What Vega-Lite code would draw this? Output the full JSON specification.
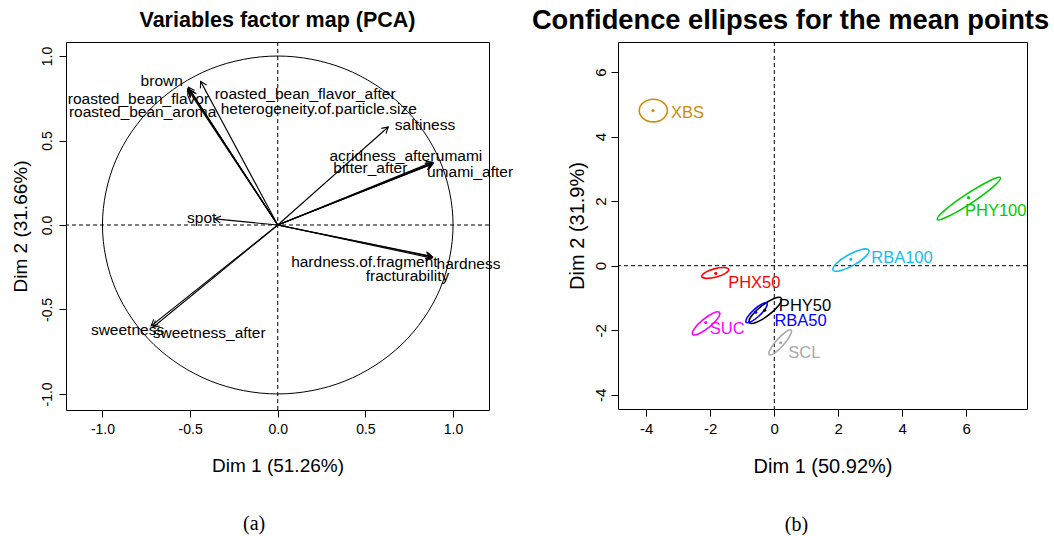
{
  "$schema": "https://vega.github.io/schema/vega-lite/v6.json",
  "padding": {"left": 10, "top": 6, "right": 0, "bottom": 0},
  "spacing": 17,
  "config": {
    "locale": {"number": {"decimal": ".", "thousands": ",", "grouping": [3], "currency": ["$", ""], "minus": "-"}},
    "font": "Liberation Sans",
    "view": {"stroke": "black", "strokeWidth": 1},
    "axis": {"domain": false, "grid": false, "ticks": true, "tickSize": 7, "tickColor": "black", "tickWidth": 1, "labelColor": "black", "labelFont": "Liberation Sans", "labelFontSize": 14, "labelPadding": 5, "titleColor": "black", "titleFont": "Liberation Sans", "titleFontSize": 19, "titleFontWeight": "normal"},
    "axisX": {"titlePadding": 20},
    "axisY": {"labelAngle": -90, "labelAlign": "center", "labelBaseline": "bottom", "titlePadding": 10},
    "title": {"color": "black", "font": "Liberation Sans"}
  },
  "datasets": {
    "arrows": [
      {"name": "brown", "x": -0.515, "y": 0.805, "lx": -0.662, "ly": 0.854},
      {"name": "roasted_bean_flavor", "x": -0.51, "y": 0.815, "lx": -0.795, "ly": 0.744},
      {"name": "roasted_bean_aroma", "x": -0.505, "y": 0.8, "lx": -0.771, "ly": 0.67},
      {"name": "roasted_bean_flavor_after", "x": -0.44, "y": 0.85, "lx": 0.156, "ly": 0.775},
      {"name": "heterogeneity.of.particle.size", "x": -0.5, "y": 0.795, "lx": 0.234, "ly": 0.686},
      {"name": "saltiness", "x": 0.63, "y": 0.58, "lx": 0.84, "ly": 0.592},
      {"name": "acridness_after", "x": 0.882, "y": 0.372, "lx": 0.597, "ly": 0.408},
      {"name": "umami", "x": 0.888, "y": 0.368, "lx": 1.034, "ly": 0.408},
      {"name": "bitter_after", "x": 0.878, "y": 0.36, "lx": 0.528, "ly": 0.335},
      {"name": "umami_after", "x": 0.885, "y": 0.362, "lx": 1.097, "ly": 0.314},
      {"name": "spot", "x": -0.36, "y": 0.036, "lx": -0.434, "ly": 0.043},
      {"name": "hardness.of.fragment", "x": 0.878, "y": -0.186, "lx": 0.494, "ly": -0.217},
      {"name": "hardness", "x": 0.884, "y": -0.19, "lx": 1.088, "ly": -0.231},
      {"name": "fracturability", "x": 0.88, "y": -0.196, "lx": 0.74, "ly": -0.302},
      {"name": "sweetness", "x": -0.722, "y": -0.597, "lx": -0.857, "ly": -0.621},
      {"name": "sweetness_after", "x": -0.712, "y": -0.605, "lx": -0.391, "ly": -0.637}
    ],
    "circle": [
      {"i": 0, "x": 1, "y": 0}, {"i": 1, "x": 0.9239, "y": 0.3827}, {"i": 2, "x": 0.7071, "y": 0.7071}, {"i": 3, "x": 0.3827, "y": 0.9239},
      {"i": 4, "x": 0, "y": 1}, {"i": 5, "x": -0.3827, "y": 0.9239}, {"i": 6, "x": -0.7071, "y": 0.7071}, {"i": 7, "x": -0.9239, "y": 0.3827},
      {"i": 8, "x": -1, "y": 0}, {"i": 9, "x": -0.9239, "y": -0.3827}, {"i": 10, "x": -0.7071, "y": -0.7071}, {"i": 11, "x": -0.3827, "y": -0.9239},
      {"i": 12, "x": 0, "y": -1}, {"i": 13, "x": 0.3827, "y": -0.9239}, {"i": 14, "x": 0.7071, "y": -0.7071}, {"i": 15, "x": 0.9239, "y": -0.3827}
    ],
    "ellipses": [
      {"g": "PHY100", "i": 0, "x": 7.067, "y": 2.727}, {"g": "PHY100", "i": 1, "x": 6.718, "y": 2.629}, {"g": "PHY100", "i": 2, "x": 5.995, "y": 2.21}, {"g": "PHY100", "i": 3, "x": 5.322, "y": 1.715},
      {"g": "PHY100", "i": 4, "x": 5.093, "y": 1.433}, {"g": "PHY100", "i": 5, "x": 5.442, "y": 1.531}, {"g": "PHY100", "i": 6, "x": 6.166, "y": 1.95}, {"g": "PHY100", "i": 7, "x": 6.838, "y": 2.445},
      {"g": "XBS", "i": 0, "x": -3.34, "y": 4.81}, {"g": "XBS", "i": 1, "x": -3.469, "y": 5.057}, {"g": "XBS", "i": 2, "x": -3.78, "y": 5.16}, {"g": "XBS", "i": 3, "x": -4.091, "y": 5.057},
      {"g": "XBS", "i": 4, "x": -4.22, "y": 4.81}, {"g": "XBS", "i": 5, "x": -4.091, "y": 4.563}, {"g": "XBS", "i": 6, "x": -3.78, "y": 4.46}, {"g": "XBS", "i": 7, "x": -3.469, "y": 4.563},
      {"g": "RBA100", "i": 0, "x": 2.952, "y": 0.484}, {"g": "RBA100", "i": 1, "x": 2.727, "y": 0.504}, {"g": "RBA100", "i": 2, "x": 2.308, "y": 0.332}, {"g": "RBA100", "i": 3, "x": 1.939, "y": 0.068},
      {"g": "RBA100", "i": 4, "x": 1.838, "y": -0.134}, {"g": "RBA100", "i": 5, "x": 2.063, "y": -0.154}, {"g": "RBA100", "i": 6, "x": 2.482, "y": 0.018}, {"g": "RBA100", "i": 7, "x": 2.851, "y": 0.282},
      {"g": "PHX50", "i": 0, "x": -1.425, "y": -0.115}, {"g": "PHX50", "i": 1, "x": -1.572, "y": -0.058}, {"g": "PHX50", "i": 2, "x": -1.879, "y": -0.099}, {"g": "PHX50", "i": 3, "x": -2.166, "y": -0.214},
      {"g": "PHX50", "i": 4, "x": -2.265, "y": -0.335}, {"g": "PHX50", "i": 5, "x": -2.118, "y": -0.392}, {"g": "PHX50", "i": 6, "x": -1.811, "y": -0.351}, {"g": "PHX50", "i": 7, "x": -1.524, "y": -0.236},
      {"g": "PHY50", "i": 0, "x": 0.218, "y": -1.006}, {"g": "PHY50", "i": 1, "x": -0.005, "y": -1.016}, {"g": "PHY50", "i": 2, "x": -0.389, "y": -1.242}, {"g": "PHY50", "i": 3, "x": -0.709, "y": -1.552},
      {"g": "PHY50", "i": 4, "x": -0.778, "y": -1.764}, {"g": "PHY50", "i": 5, "x": -0.555, "y": -1.754}, {"g": "PHY50", "i": 6, "x": -0.171, "y": -1.528}, {"g": "PHY50", "i": 7, "x": 0.149, "y": -1.218},
      {"g": "RBA50", "i": 0, "x": -0.231, "y": -1.164}, {"g": "RBA50", "i": 1, "x": -0.385, "y": -1.186}, {"g": "RBA50", "i": 2, "x": -0.639, "y": -1.368}, {"g": "RBA50", "i": 3, "x": -0.843, "y": -1.604},
      {"g": "RBA50", "i": 4, "x": -0.879, "y": -1.756}, {"g": "RBA50", "i": 5, "x": -0.725, "y": -1.734}, {"g": "RBA50", "i": 6, "x": -0.471, "y": -1.552}, {"g": "RBA50", "i": 7, "x": -0.267, "y": -1.316},
      {"g": "SUC", "i": 0, "x": -1.711, "y": -1.45}, {"g": "SUC", "i": 1, "x": -1.901, "y": -1.468}, {"g": "SUC", "i": 2, "x": -2.225, "y": -1.674}, {"g": "SUC", "i": 3, "x": -2.493, "y": -1.948},
      {"g": "SUC", "i": 4, "x": -2.549, "y": -2.13}, {"g": "SUC", "i": 5, "x": -2.359, "y": -2.112}, {"g": "SUC", "i": 6, "x": -2.036, "y": -1.906}, {"g": "SUC", "i": 7, "x": -1.767, "y": -1.632},
      {"g": "SCL", "i": 0, "x": 0.528, "y": -1.999}, {"g": "SCL", "i": 1, "x": 0.361, "y": -2.052}, {"g": "SCL", "i": 2, "x": 0.092, "y": -2.296}, {"g": "SCL", "i": 3, "x": -0.123, "y": -2.59},
      {"g": "SCL", "i": 4, "x": -0.158, "y": -2.761}, {"g": "SCL", "i": 5, "x": 0.009, "y": -2.708}, {"g": "SCL", "i": 6, "x": 0.278, "y": -2.464}, {"g": "SCL", "i": 7, "x": 0.493, "y": -2.17}
    ],
    "groups": [
      {"g": "XBS", "cx": -3.79, "cy": 4.81, "lx": -2.71, "ly": 4.74},
      {"g": "PHY100", "cx": 6.07, "cy": 2.11, "lx": 6.92, "ly": 1.7},
      {"g": "RBA100", "cx": 2.39, "cy": 0.2, "lx": 3.99, "ly": 0.23},
      {"g": "PHX50", "cx": -1.83, "cy": -0.24, "lx": -0.625, "ly": -0.53},
      {"g": "PHY50", "cx": -0.3, "cy": -1.38, "lx": 0.96, "ly": -1.25},
      {"g": "RBA50", "cx": -0.58, "cy": -1.44, "lx": 0.82, "ly": -1.71},
      {"g": "SUC", "cx": -2.14, "cy": -1.76, "lx": -1.47, "ly": -1.97},
      {"g": "SCL", "cx": 0.2, "cy": -2.39, "lx": 0.94, "ly": -2.7}
    ]
  },
  "hconcat": [
    {
      "title": {"text": "(a)", "orient": "bottom", "anchor": "middle", "font": "Liberation Serif", "fontSize": 20, "fontWeight": "normal", "offset": 38, "dx": -8},
      "vconcat": [
        {
          "width": 423,
          "height": 368,
          "title": {"text": "Variables factor map (PCA)", "anchor": "middle", "fontSize": 21.5, "fontWeight": "bold", "offset": 10},
          "layer": [
            {
              "data": {"values": [{}]},
              "mark": {"type": "rule", "stroke": "black", "strokeWidth": 1, "strokeDash": [4, 3]},
              "encoding": {"x": {"datum": 0, "type": "quantitative", "scale": {"domain": [-1.208, 1.205], "nice": false, "zero": false}, "axis": {"values": [-1, -0.5, 0, 0.5, 1], "format": ".1f", "title": "Dim 1 (51.26%)"}}}
            },
            {
              "data": {"values": [{}]},
              "mark": {"type": "rule", "stroke": "black", "strokeWidth": 1, "strokeDash": [4, 3]},
              "encoding": {"y": {"datum": 0, "type": "quantitative", "scale": {"domain": [-1.095, 1.083], "nice": false, "zero": false}, "axis": {"values": [-1, -0.5, 0, 0.5, 1], "format": ".1f", "title": "Dim 2 (31.66%)"}}}
            },
            {
              "data": {"name": "circle"},
              "mark": {"type": "line", "interpolate": "cardinal-closed", "stroke": "black", "strokeWidth": 1},
              "encoding": {
                "x": {"field": "x", "type": "quantitative", "scale": {"domain": [-1.208, 1.205], "nice": false, "zero": false}, "axis": {"values": [-1, -0.5, 0, 0.5, 1], "format": ".1f", "title": "Dim 1 (51.26%)"}},
                "y": {"field": "y", "type": "quantitative", "scale": {"domain": [-1.095, 1.083], "nice": false, "zero": false}, "axis": {"values": [-1, -0.5, 0, 0.5, 1], "format": ".1f", "title": "Dim 2 (31.66%)"}},
                "order": {"field": "i", "type": "quantitative"}
              }
            },
            {
              "data": {"name": "arrows"},
              "mark": {"type": "rule", "stroke": "black", "strokeWidth": 1.1},
              "encoding": {
                "x": {"field": "x", "type": "quantitative", "scale": {"domain": [-1.208, 1.205], "nice": false, "zero": false}, "axis": {"values": [-1, -0.5, 0, 0.5, 1], "format": ".1f", "title": "Dim 1 (51.26%)"}},
                "y": {"field": "y", "type": "quantitative", "scale": {"domain": [-1.095, 1.083], "nice": false, "zero": false}, "axis": {"values": [-1, -0.5, 0, 0.5, 1], "format": ".1f", "title": "Dim 2 (31.66%)"}},
                "x2": {"datum": 0},
                "y2": {"datum": 0}
              }
            },
            {
              "data": {"name": "arrows"},
              "transform": [{"calculate": "atan2(datum.x * 175.3, datum.y * 169) * 180 / PI", "as": "ang"}],
              "mark": {"type": "point", "shape": "M -0.5 0.866 L 0 0 L 0.5 0.866", "filled": false, "stroke": "black", "strokeWidth": 1.1, "size": 196, "opacity": 1},
              "encoding": {
                "x": {"field": "x", "type": "quantitative", "scale": {"domain": [-1.208, 1.205], "nice": false, "zero": false}, "axis": {"values": [-1, -0.5, 0, 0.5, 1], "format": ".1f", "title": "Dim 1 (51.26%)"}},
                "y": {"field": "y", "type": "quantitative", "scale": {"domain": [-1.095, 1.083], "nice": false, "zero": false}, "axis": {"values": [-1, -0.5, 0, 0.5, 1], "format": ".1f", "title": "Dim 2 (31.66%)"}},
                "angle": {"field": "ang", "type": "quantitative", "scale": null}
              }
            },
            {
              "data": {"name": "arrows"},
              "mark": {"type": "text", "fontSize": 15.5, "font": "Liberation Sans", "color": "black", "align": "center", "baseline": "middle"},
              "encoding": {
                "x": {"field": "lx", "type": "quantitative", "scale": {"domain": [-1.208, 1.205], "nice": false, "zero": false}, "axis": {"values": [-1, -0.5, 0, 0.5, 1], "format": ".1f", "title": "Dim 1 (51.26%)"}},
                "y": {"field": "ly", "type": "quantitative", "scale": {"domain": [-1.095, 1.083], "nice": false, "zero": false}, "axis": {"values": [-1, -0.5, 0, 0.5, 1], "format": ".1f", "title": "Dim 2 (31.66%)"}},
                "text": {"field": "name"}
              }
            }
          ]
        }
      ]
    },
    {
      "title": {"text": "(b)", "orient": "bottom", "anchor": "middle", "font": "Liberation Serif", "fontSize": 20, "fontWeight": "normal", "offset": 38, "dx": 6},
      "vconcat": [
        {
          "width": 409,
          "height": 367,
          "title": {"text": "Confidence ellipses for the mean points", "anchor": "middle", "fontSize": 27.3, "fontWeight": "bold", "offset": 7, "dx": -32},
          "layer": [
            {
              "data": {"values": [{}]},
              "mark": {"type": "rule", "stroke": "black", "strokeWidth": 1, "strokeDash": [4, 3]},
              "encoding": {"x": {"datum": 0, "type": "quantitative", "scale": {"domain": [-4.884, 7.897], "nice": false, "zero": false}, "axis": {"values": [-4, -2, 0, 2, 4, 6], "format": "d", "title": "Dim 1 (50.92%)", "labelFontSize": 15, "titleFontSize": 20}}}
            },
            {
              "data": {"values": [{}]},
              "mark": {"type": "rule", "stroke": "black", "strokeWidth": 1, "strokeDash": [4, 3]},
              "encoding": {"y": {"datum": 0, "type": "quantitative", "scale": {"domain": [-4.443, 6.936], "nice": false, "zero": false}, "axis": {"values": [-4, -2, 0, 2, 4, 6], "format": "d", "title": "Dim 2 (31.9%)", "labelFontSize": 15, "titleFontSize": 20, "titlePadding": 6, "labelPadding": 3}}}
            },
            {
              "data": {"name": "ellipses"},
              "mark": {"type": "line", "interpolate": "cardinal-closed", "strokeWidth": 1.6},
              "encoding": {
                "x": {"field": "x", "type": "quantitative", "scale": {"domain": [-4.884, 7.897], "nice": false, "zero": false}, "axis": {"values": [-4, -2, 0, 2, 4, 6], "format": "d", "title": "Dim 1 (50.92%)", "labelFontSize": 15, "titleFontSize": 20}},
                "y": {"field": "y", "type": "quantitative", "scale": {"domain": [-4.443, 6.936], "nice": false, "zero": false}, "axis": {"values": [-4, -2, 0, 2, 4, 6], "format": "d", "title": "Dim 2 (31.9%)", "labelFontSize": 15, "titleFontSize": 20, "titlePadding": 6, "labelPadding": 3}},
                "color": {"field": "g", "type": "nominal", "scale": {"domain": ["PHY50", "PHX50", "PHY100", "RBA50", "RBA100", "SUC", "SCL", "XBS"], "range": ["#000000", "#FF0000", "#00CD00", "#0000FF", "#12BDEF", "#FF00FF", "#A9A9A9", "#D08A0A"]}, "legend": null},
                "detail": {"field": "g", "type": "nominal"},
                "order": {"field": "i", "type": "quantitative"}
              }
            },
            {
              "data": {"name": "groups"},
              "mark": {"type": "point", "filled": true, "size": 10, "opacity": 1, "shape": "circle"},
              "encoding": {
                "x": {"field": "cx", "type": "quantitative", "scale": {"domain": [-4.884, 7.897], "nice": false, "zero": false}, "axis": {"values": [-4, -2, 0, 2, 4, 6], "format": "d", "title": "Dim 1 (50.92%)", "labelFontSize": 15, "titleFontSize": 20}},
                "y": {"field": "cy", "type": "quantitative", "scale": {"domain": [-4.443, 6.936], "nice": false, "zero": false}, "axis": {"values": [-4, -2, 0, 2, 4, 6], "format": "d", "title": "Dim 2 (31.9%)", "labelFontSize": 15, "titleFontSize": 20, "titlePadding": 6, "labelPadding": 3}},
                "color": {"field": "g", "type": "nominal", "scale": {"domain": ["PHY50", "PHX50", "PHY100", "RBA50", "RBA100", "SUC", "SCL", "XBS"], "range": ["#000000", "#FF0000", "#00CD00", "#0000FF", "#12BDEF", "#FF00FF", "#A9A9A9", "#D08A0A"]}, "legend": null}
              }
            },
            {
              "data": {"name": "groups"},
              "mark": {"type": "text", "fontSize": 16.5, "font": "Liberation Sans", "align": "center", "baseline": "middle"},
              "encoding": {
                "x": {"field": "lx", "type": "quantitative", "scale": {"domain": [-4.884, 7.897], "nice": false, "zero": false}, "axis": {"values": [-4, -2, 0, 2, 4, 6], "format": "d", "title": "Dim 1 (50.92%)", "labelFontSize": 15, "titleFontSize": 20}},
                "y": {"field": "ly", "type": "quantitative", "scale": {"domain": [-4.443, 6.936], "nice": false, "zero": false}, "axis": {"values": [-4, -2, 0, 2, 4, 6], "format": "d", "title": "Dim 2 (31.9%)", "labelFontSize": 15, "titleFontSize": 20, "titlePadding": 6, "labelPadding": 3}},
                "color": {"field": "g", "type": "nominal", "scale": {"domain": ["PHY50", "PHX50", "PHY100", "RBA50", "RBA100", "SUC", "SCL", "XBS"], "range": ["#000000", "#FF0000", "#00CD00", "#0000FF", "#12BDEF", "#FF00FF", "#A9A9A9", "#D08A0A"]}, "legend": null},
                "text": {"field": "g", "type": "nominal"}
              }
            }
          ]
        }
      ]
    }
  ]
}
